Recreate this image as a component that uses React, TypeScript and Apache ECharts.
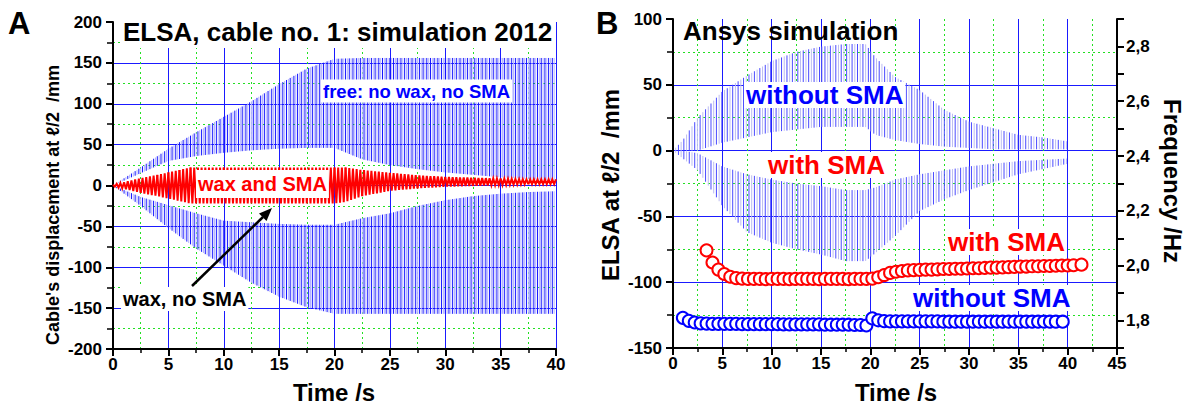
import React, { useEffect, useRef } from "react";
import * as echarts from "echarts";

// ---------- Panel A: ELSA cable no. 1 simulation (envelopes) ----------
const timeA = [0, 2.5, 5, 7.5, 10, 12.5, 15, 17.5, 20, 22.5, 25, 27.5, 30, 32.5, 35, 37.5, 40];
const freeUpperOuterA = [0, 22, 45, 65, 84, 103, 124, 143, 155, 156, 156, 156, 156, 156, 156, 156, 156];
const freeUpperInnerA = [0, 15, 30, 36, 40, 43, 45, 46, 46, 32, 25, 20, 16, 13, 10, 8, 6];
const freeLowerInnerA = [0, -14, -24, -34, -43, -45, -47, -48, -48, -40, -34, -25, -18, -13, -10, -8, -7];
const freeLowerOuterA = [0, -25, -52, -77, -98, -119, -136, -149, -157, -157, -157, -157, -157, -157, -157, -157, -157];

const timeRedA = [0, 1, 2.5, 4, 5, 6, 7, 10, 15, 20, 21, 22.5, 25, 27.5, 30, 32.5, 35, 37.5, 40];
const waxSmaAmpA = [1, 4, 9, 13, 16, 19, 22, 22, 22, 22, 21, 16, 11, 8, 6, 5, 4, 3, 3];
const waxSmaCenterA = [0, 0, 0, 0, 0, 0, 0, 0, 0, 0, 1, 3, 4.5, 4.5, 4.5, 4.5, 4.5, 4.5, 4.5];

// ---------- Panel B: Ansys simulation ----------
const timeB = [0, 1, 2.5, 5, 7.5, 10, 12.5, 15, 17.5, 19.5, 20.5, 22.5, 25, 27.5, 30, 32.5, 35, 37.5, 40];
const upperOuterB = [0, 8, 25, 45, 57, 68, 75, 79, 81, 81, 71, 56, 46, 31, 22, 17, 12, 10, 7];
const upperInnerB = [0, 0, 0, 6, 10, 14, 16, 18, 18, 18, 12, 8, 5, 3, 2, 1, 1, 1, 1];
const lowerInnerB = [0, 0, -2, -12, -18, -22, -25, -27, -30, -30, -28, -22, -18, -15, -12, -10, -8, -7, -6];
const lowerOuterB = [0, -6, -15, -42, -62, -70, -75, -79, -84, -84, -78, -65, -46, -37, -30, -24, -18, -14, -10];

const withSmaTimes = [3.4, 4.0, 4.6, 5.2, 5.8, 6.4, 7.0, 7.6, 8.2, 8.8, 9.4, 10.0, 10.6, 11.2, 11.8, 12.4, 13.0, 13.6, 14.2, 14.8,
  15.4, 16.0, 16.6, 17.2, 17.8, 18.4, 19.0, 19.6, 20.2, 20.8, 21.4, 22.0, 22.6, 23.2, 23.8, 24.4, 25.0, 25.6, 26.2, 26.8,
  27.4, 28.0, 28.6, 29.2, 29.8, 30.4, 31.0, 31.6, 32.2, 32.8, 33.4, 34.0, 34.6, 35.2, 35.8, 36.4, 37.0, 37.6, 38.2, 38.8,
  39.4, 40.0, 40.6, 41.4];
const withSmaFreq = [2.056, 2.012, 1.986, 1.970, 1.960, 1.955, 1.953, 1.952, 1.952, 1.952, 1.951, 1.952, 1.952, 1.952, 1.951, 1.952, 1.952, 1.952, 1.952, 1.951,
  1.952, 1.952, 1.952, 1.952, 1.951, 1.952, 1.952, 1.952, 1.953, 1.958, 1.966, 1.974, 1.978, 1.981, 1.983, 1.984, 1.985, 1.986, 1.986, 1.987,
  1.988, 1.988, 1.989, 1.989, 1.990, 1.991, 1.991, 1.992, 1.993, 1.993, 1.994, 1.995, 1.996, 1.997, 1.997, 1.998, 1.998, 1.999, 1.999, 2.000,
  2.001, 2.001, 2.002, 2.004];

const withoutSmaTimes = [1.0, 1.6, 2.2, 2.8, 3.4, 4.0, 4.6, 5.2, 5.8, 6.4, 7.0, 7.6, 8.2, 8.8, 9.4, 10.0, 10.6, 11.2, 11.8, 12.4,
  13.0, 13.6, 14.2, 14.8, 15.4, 16.0, 16.6, 17.2, 17.8, 18.4, 19.0, 19.6, 20.2, 20.8, 21.4, 22.0, 22.6, 23.2, 23.8, 24.4,
  25.0, 25.6, 26.2, 26.8, 27.4, 28.0, 28.6, 29.2, 29.8, 30.4, 31.0, 31.6, 32.2, 32.8, 33.4, 34.0, 34.6, 35.2, 35.8, 36.4,
  37.0, 37.6, 38.2, 38.8, 39.5];
const withoutSmaFreq = [1.810, 1.799, 1.793, 1.790, 1.789, 1.788, 1.788, 1.788, 1.788, 1.788, 1.787, 1.787, 1.787, 1.787, 1.787, 1.787, 1.787, 1.786, 1.786, 1.786,
  1.786, 1.786, 1.786, 1.786, 1.785, 1.785, 1.785, 1.785, 1.785, 1.784, 1.784, 1.782, 1.808, 1.801, 1.798, 1.797, 1.797, 1.797, 1.797, 1.797,
  1.797, 1.797, 1.797, 1.797, 1.796, 1.796, 1.796, 1.796, 1.796, 1.796, 1.796, 1.796, 1.796, 1.796, 1.796, 1.796, 1.796, 1.796, 1.796, 1.796,
  1.796, 1.796, 1.796, 1.796, 1.796];

const FONT = '"Liberation Sans", Arial, Helvetica, sans-serif';
const BLUE_GRID = "#1a1aff";
const GREEN_GRID = "#22e022";

function valueAt(times: number[], arr: number[], t: number) {
  if (t <= times[0]) return arr[0];
  for (let i = 0; i < times.length - 1; i++) {
    if (t <= times[i + 1]) {
      const f = (t - times[i]) / (times[i + 1] - times[i]);
      return arr[i] + (arr[i + 1] - arr[i]) * f;
    }
  }
  return arr[arr.length - 1];
}

// Oscillation texture drawn between read envelopes
function makeBandRender(times: number[], upOuter: number[], upInner: number[], loInner: number[], loOuter: number[],
  step: number, dark: string, light: string, darkW: number, lightW: number) {
  return (params: any, api: any) => {
    const i = params.dataIndex;
    const t0 = times[i], t1 = times[i + 1];
    const children: any[] = [];
    for (let k = Math.ceil(t0 / step - 1e-9); k * step < t1 - 1e-9; k++) {
      const t = k * step;
      const isDark = k % 2 === 0;
      const style = { stroke: isDark ? dark : light, lineWidth: isDark ? darkW : lightW };
      const a = api.coord([t, valueAt(times, upOuter, t)]);
      const b = api.coord([t, valueAt(times, upInner, t)]);
      const c = api.coord([t, valueAt(times, loInner, t)]);
      const d = api.coord([t, valueAt(times, loOuter, t)]);
      children.push({ type: "line", shape: { x1: a[0], y1: a[1], x2: b[0], y2: b[1] }, style });
      children.push({ type: "line", shape: { x1: c[0], y1: c[1], x2: d[0], y2: d[1] }, style });
    }
    return { type: "group", children };
  };
}

function makeZigzagRender(times: number[], amp: number[], center: number[], half: number, color: string, width: number) {
  return (params: any, api: any) => {
    const i = params.dataIndex;
    const t0 = times[i], t1 = times[i + 1];
    const points: number[][] = [];
    const kEnd = Math.ceil(t1 / half - 1e-9);
    for (let k = Math.ceil(t0 / half - 1e-9); k <= kEnd; k++) {
      const t = k * half;
      const sign = k % 2 === 0 ? 1 : -1;
      const v = valueAt(times, center, t) + sign * valueAt(times, amp, t);
      points.push(api.coord([t, v]));
    }
    return { type: "polyline", shape: { points }, style: { stroke: color, lineWidth: width, fill: "none", lineJoin: "miter" } };
  };
}

function xAxisCfg(gridIndex: number, max: number) {
  return {
    type: "value", gridIndex, min: 0, max, interval: 5,
    axisLine: { show: true, onZero: false, lineStyle: { color: "#000", width: 2 } },
    axisTick: { show: true, length: 7, lineStyle: { color: "#000", width: 2 } },
    minorTick: { show: true, splitNumber: 2, length: 4, lineStyle: { color: "#000", width: 1.5 } },
    splitLine: { show: true, lineStyle: { color: BLUE_GRID, width: 1 } },
    minorSplitLine: { show: true, lineStyle: { color: GREEN_GRID, width: 1, type: [2, 3] } },
    axisLabel: { color: "#000", fontSize: 17, fontWeight: "bold", fontFamily: FONT, margin: 7 },
  };
}

function yAxisCfg(gridIndex: number, min: number, max: number) {
  return {
    type: "value", gridIndex, min, max, interval: 50,
    axisLine: { show: true, onZero: false, lineStyle: { color: "#000", width: 2 } },
    axisTick: { show: true, length: 7, lineStyle: { color: "#000", width: 2 } },
    minorTick: { show: true, splitNumber: 2, length: 6, lineStyle: { color: "#000", width: 1.5 } },
    splitLine: { show: true, showMinLine: false, showMaxLine: false, lineStyle: { color: BLUE_GRID, width: 1 } },
    minorSplitLine: { show: true, lineStyle: { color: GREEN_GRID, width: 1, type: [2, 3] } },
    axisLabel: { color: "#000", fontSize: 17, fontWeight: "bold", fontFamily: FONT, margin: 11 },
  };
}

function label(text: string, x: number, y: number, size: number, color: string, bg: boolean, extra: any = {}) {
  return {
    type: "text", x, y, z: 100,
    ...extra,
    style: {
      text, fill: color, fontSize: size, fontWeight: "bold", fontFamily: FONT,
      align: extra.align || "left", verticalAlign: "middle",
      ...(bg ? { backgroundColor: "#ffffff", padding: extra.padding || [1, 2] } : {}),
    },
  };
}

export default function App() {
  const ref = useRef<HTMLDivElement>(null);
  useEffect(() => {
    if (!ref.current) return;
    const chart = echarts.init(ref.current, undefined, { renderer: "svg" });
    const option: any = {
      animation: false,
      backgroundColor: "#ffffff",
      grid: [
        { left: 113, top: 22, width: 443, height: 327 },
        { left: 673, top: 19, width: 444, height: 329 },
      ],
      xAxis: [xAxisCfg(0, 40), xAxisCfg(1, 45)],
      yAxis: [
        yAxisCfg(0, -200, 200),
        yAxisCfg(1, -150, 100),
        {
          type: "value", gridIndex: 1, position: "right", min: 1.7, max: 2.9, interval: 0.1,
          axisLine: { show: true, onZero: false, lineStyle: { color: "#000", width: 2 } },
          axisTick: { show: true, length: 7, lineStyle: { color: "#000", width: 2 } },
          splitLine: { show: false },
          axisLabel: {
            color: "#000", fontSize: 17, fontWeight: "bold", fontFamily: FONT, margin: 9,
            formatter: (v: number) => {
              const k = Math.round(v * 10);
              return k % 2 === 0 ? (k / 10).toFixed(1).replace(".", ",") : "";
            },
          },
        },
      ],
      series: [
        {
          type: "custom", name: "free: no wax, no SMA", xAxisIndex: 0, yAxisIndex: 0, silent: true,
          renderItem: makeBandRender(timeA, freeUpperOuterA, freeUpperInnerA, freeLowerInnerA, freeLowerOuterA,
            1 / 6, "#1414ff", "#b4b4ff", 1, 1),
          data: timeA.slice(0, -1).map((t, i) => [t, freeUpperOuterA[i], freeLowerOuterA[i]]),
          encode: { x: 0, y: [1, 2] }, z: 2,
        },
        {
          type: "custom", name: "wax and SMA", xAxisIndex: 0, yAxisIndex: 0, silent: true,
          renderItem: makeZigzagRender(timeRedA, waxSmaAmpA, waxSmaCenterA, 1 / 6, "#ff0000", 2),
          data: timeRedA.slice(0, -1).map((t, i) => [t, waxSmaAmpA[i]]),
          encode: { x: 0, y: 1 }, z: 3,
        },
        {
          type: "custom", name: "without SMA (ELSA)", xAxisIndex: 1, yAxisIndex: 1, silent: true,
          renderItem: makeBandRender(timeB, upperOuterB, upperInnerB, lowerInnerB, lowerOuterB,
            0.275, "#4a4aff", "#bcbcf2", 1, 1),
          data: timeB.slice(0, -1).map((t, i) => [t, upperOuterB[i], lowerOuterB[i]]),
          encode: { x: 0, y: [1, 2] }, z: 2,
        },
        {
          type: "scatter", name: "with SMA", xAxisIndex: 1, yAxisIndex: 2,
          data: withSmaTimes.map((t, i) => [t, withSmaFreq[i]]),
          symbol: "circle", symbolSize: 12,
          itemStyle: { color: "#ffffff", borderColor: "#ff0000", borderWidth: 2, opacity: 1 },
          z: 5, silent: true,
        },
        {
          type: "scatter", name: "without SMA", xAxisIndex: 1, yAxisIndex: 2,
          data: withoutSmaTimes.map((t, i) => [t, withoutSmaFreq[i]]),
          symbol: "circle", symbolSize: 12,
          itemStyle: { color: "#ffffff", borderColor: "#0000ff", borderWidth: 2, opacity: 1 },
          z: 5, silent: true,
        },
      ],
      graphic: [
        label("A", 8, 23, 31, "#000", false),
        label("B", 596, 23, 31, "#000", false),
        label("ELSA, cable no. 1: simulation 2012", 120, 32, 26, "#000", true, { padding: [3, 3] }),
        label("Ansys simulation", 683, 31, 26, "#000", false),
        label("free: no wax, no SMA", 321, 91, 18.5, "#0000ff", true, { padding: [2, 2] }),
        label("wax and SMA", 196, 184, 20, "#ff0000", true, { padding: [4, 2] }),
        label("wax, no SMA", 121, 299, 20, "#000", true, { padding: [2, 2] }),
        label("without SMA", 744, 95, 26, "#0000ff", true, { padding: [0, 2] }),
        label("with SMA", 766, 165, 26, "#ff0000", true, { padding: [0, 2] }),
        label("with SMA", 946, 242, 26, "#ff0000", true, { padding: [0, 2] }),
        label("without SMA", 911, 298, 26, "#0000ff", true, { padding: [0, 2] }),
        label("Cable's displacement at \u2113/2  /mm", 53, 205, 18, "#000", false, { rotation: Math.PI / 2, align: "center" }),
        label("Time /s", 334, 392, 24, "#000", false, { align: "center" }),
        label("ELSA at \u2113/2  /mm", 610, 185, 24, "#000", false, { rotation: Math.PI / 2, align: "center" }),
        label("Time /s", 896, 392, 24, "#000", false, { align: "center" }),
        label("Frequency /Hz", 1172, 181, 24, "#000", false, { rotation: -Math.PI / 2, align: "center" }),
        {
          type: "line", z: 100,
          shape: { x1: 192, y1: 286, x2: 263, y2: 217 },
          style: { stroke: "#000", lineWidth: 2.5 },
        },
        {
          type: "polygon", z: 100,
          shape: { points: [[272, 208], [266.5, 221], [259, 213.5]] },
          style: { fill: "#000" },
        },
      ],
    };
    chart.setOption(option);
    return () => chart.dispose();
  }, []);
  return (
    <div
      ref={ref}
      style={{ position: "fixed", left: 0, top: 0, width: 1189, height: 407, background: "#fff" }}
    />
  );
}
